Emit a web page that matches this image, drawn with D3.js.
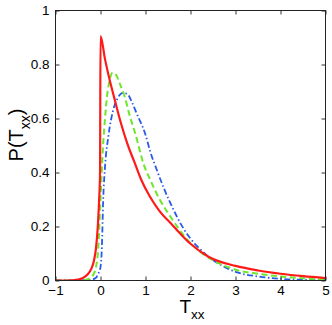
<!DOCTYPE html>
<html>
<head>
<meta charset="utf-8">
<script src="https://cdn.jsdelivr.net/npm/d3@7"></script>
<style>
  html, body { margin: 0; padding: 0; background: #fff; }
  svg { display: block; }
  text { font-family: "Liberation Sans", Arial, Helvetica, sans-serif; fill: #000; }
</style>
</head>
<body>
<svg id="chart" width="332" height="325"></svg>
<script>
// ---- data ----
const redT = [-1, -0.6, -0.5, -0.4, -0.3, -0.2, -0.15, -0.1, -0.06, -0.03, -0.01, 0, 0.1, 0.2, 0.3, 0.45, 0.6, 0.75, 0.9, 1.1, 1.3, 1.6, 2.0, 2.4, 3.0, 3.5, 4.0, 4.5, 5.0];
const redP = [0, 0.001, 0.003, 0.008, 0.02, 0.045, 0.07, 0.12, 0.2, 0.3, 0.4, 0.905, 0.82, 0.745, 0.68, 0.585, 0.505, 0.44, 0.375, 0.31, 0.26, 0.205, 0.136, 0.088, 0.054, 0.037, 0.025, 0.016, 0.009];

const greenT = [-1, -0.4, -0.3, -0.2, -0.15, -0.1, -0.05, 0, 0.05, 0.1, 0.15, 0.2, 0.27, 0.35, 0.45, 0.52, 0.65, 0.78, 0.96, 1.1, 1.3, 1.6, 1.85, 2.2, 2.5, 3.0, 3.5, 4.0, 4.5, 5.0];
const greenP = [0, 0.001, 0.004, 0.012, 0.025, 0.05, 0.12, 0.3, 0.48, 0.6, 0.69, 0.74, 0.77, 0.76, 0.72, 0.69, 0.61, 0.54, 0.43, 0.375, 0.305, 0.225, 0.167, 0.108, 0.075, 0.04, 0.025, 0.015, 0.008, 0.004];

const blueT = [-1, -0.3, -0.2, -0.1, -0.05, 0, 0.03, 0.06, 0.1, 0.18, 0.28, 0.38, 0.5, 0.6, 0.7, 0.8, 1.0, 1.11, 1.25, 1.4, 1.6, 1.8, 2.0, 2.2, 2.4, 2.7, 3.0, 3.5, 4.0, 4.5, 5.0];
const blueP = [0, 0.001, 0.003, 0.01, 0.025, 0.05, 0.12, 0.3, 0.42, 0.54, 0.63, 0.675, 0.695, 0.69, 0.66, 0.62, 0.54, 0.475, 0.41, 0.345, 0.27, 0.205, 0.155, 0.118, 0.088, 0.055, 0.032, 0.015, 0.006, 0.003, 0.001];

const xTicks = [-1, 0, 1, 2, 3, 4, 5];
const yTicks = [0, 0.2, 0.4, 0.6, 0.8, 1];

// ---- layout ----
const svg = d3.select("#chart");
const L = 55.5, R = 325.5, T = 10.5, B = 280.5;

const x = d3.scaleLinear().domain([-1, 5]).range([L, R]);
const y = d3.scaleLinear().domain([0, 1]).range([B, T]);

const series = [
  { t: blueT, p: blueP, color: "#2a5be8", width: 1.8, dash: "6,2.5,1.5,2.5" },
  { t: greenT, p: greenP, color: "#6ee62a", width: 2, dash: "6,3.5" },
  { t: redT, p: redP, color: "#ff1a1a", width: 2.2, dash: null }
];

const line = d3.line()
  .x(d => x(d[0]))
  .y(d => y(d[1]))
  .curve(d3.curveMonotoneX);

svg.append("clipPath").attr("id", "clip")
  .append("rect").attr("x", L).attr("y", T).attr("width", R - L).attr("height", B - T);

const g = svg.append("g").attr("clip-path", "url(#clip)");
series.forEach(s => {
  const pts = s.t.map((t, i) => [t, s.p[i]]);
  g.append("path")
    .attr("d", line(pts))
    .attr("fill", "none")
    .attr("stroke", s.color)
    .attr("stroke-width", s.width)
    .attr("stroke-dasharray", s.dash)
    .attr("stroke-linejoin", "round");
});

// ---- axes (inward ticks on all sides) ----
const tickLen = 4;
const axBottom = d3.axisBottom(x).tickValues(xTicks).tickSizeInner(-tickLen).tickSizeOuter(0).tickPadding(5).tickFormat(d3.format("d"));
const axTop = d3.axisTop(x).tickValues(xTicks).tickSizeInner(-tickLen).tickSizeOuter(0).tickFormat("");
const axLeft = d3.axisLeft(y).tickValues(yTicks).tickSizeInner(-tickLen).tickSizeOuter(0).tickPadding(6).tickFormat(d => d === 0 ? "0" : d === 1 ? "1" : d3.format(".1f")(d));
const axRight = d3.axisRight(y).tickValues(yTicks).tickSizeInner(-tickLen).tickSizeOuter(0).tickFormat("");

function style(sel) {
  sel.select(".domain").remove();
  sel.selectAll(".tick line").attr("stroke", "#333").attr("stroke-width", 1);
  sel.selectAll(".tick text").style("font-size", "13.5px").attr("fill", "#000");
}
svg.append("g").attr("transform", `translate(0,${B})`).call(axBottom).call(style);
svg.append("g").attr("transform", `translate(0,${T})`).call(axTop).call(style);
svg.append("g").attr("transform", `translate(${L},0)`).call(axLeft).call(style);
svg.append("g").attr("transform", `translate(${R},0)`).call(axRight).call(style);

svg.append("rect")
  .attr("x", L).attr("y", T).attr("width", R - L).attr("height", B - T)
  .attr("fill", "none").attr("stroke", "#222").attr("stroke-width", 1);

// ---- axis labels ----
const xl = svg.append("text")
  .attr("x", 192).attr("y", 312.5)
  .attr("text-anchor", "middle")
  .style("font-size", "19px");
xl.append("tspan").text("T");
xl.append("tspan").attr("dy", 6.5).style("font-size", "13.5px").text("xx");

const yl = svg.append("text")
  .attr("transform", "translate(23,135) rotate(-90)")
  .attr("text-anchor", "middle")
  .style("font-size", "20px");
yl.append("tspan").text("P(T");
yl.append("tspan").attr("dy", 7).style("font-size", "14px").text("xx");
yl.append("tspan").attr("dy", -7).text(")");
</script>
</body>
</html>
